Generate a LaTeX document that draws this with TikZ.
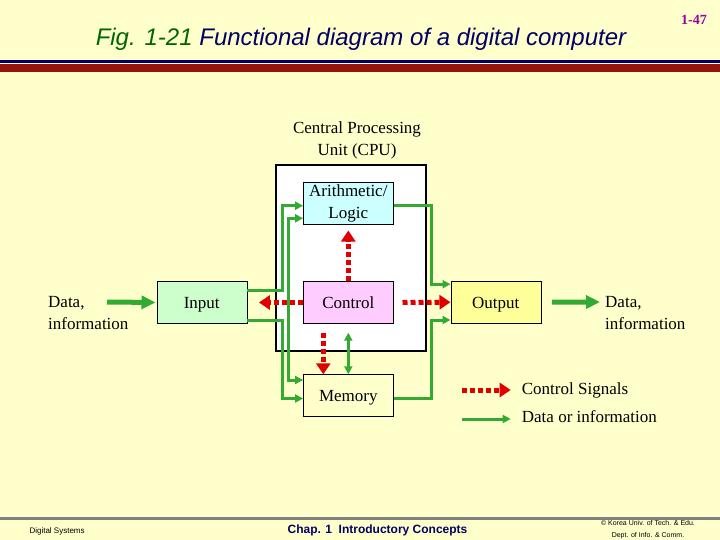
\documentclass[tikz,border=0pt]{standalone}
\usepackage{fontspec}
\setmainfont{Liberation Serif}
\setsansfont{Liberation Sans}
\usepackage{tikz}
\usetikzlibrary{positioning}
\usetikzlibrary{arrows.meta}
\definecolor{slidebg}{RGB}{255,255,204}
\definecolor{navyblue}{RGB}{0,0,102}
\definecolor{figgreen}{RGB}{0,102,0}
\definecolor{pagepurple}{RGB}{153,0,153}
\definecolor{ctrlred}{RGB}{224,0,0}
\definecolor{datagreen}{RGB}{51,170,51}
\definecolor{alufill}{RGB}{204,255,255}
\definecolor{ctrlfill}{RGB}{255,204,255}
\definecolor{infill}{RGB}{204,255,204}
\definecolor{outfill}{RGB}{255,255,153}
\definecolor{bardark}{RGB}{150,20,10}
\definecolor{barlight}{RGB}{235,40,20}
\tikzset{
unit/.style={ % Sets the properties for each unit box
draw,
thin,
minimum width=90pt,
minimum height=42pt,
inner sep=0pt,
align=center,
font=\fontsize{17}{22}\selectfont},
oneline/.style={ % Same baseline for one-line boxes
text height=12pt,
text depth=0pt},
txt/.style={ % Plain text on the slide
inner sep=0pt,
font=\fontsize{17}{22}\selectfont},
ctrl/.style={ % Control signals, dotted red
draw=ctrlred,
line width=5pt,
dash pattern=on 5pt off 3pt,
-{Triangle[length=11pt,width=14pt]}},
data/.style={ % Data paths, green
draw=datagreen,
line width=3pt,
-{Triangle[length=8pt,width=8pt]}},
bigdata/.style={ % Data going in and out
draw=datagreen,
line width=5pt,
-{Triangle[length=14pt,width=13pt]}}}

\begin{document}
\begin{tikzpicture}[x=1pt,y=-1pt]
\fill[slidebg] (0,0) rectangle (720,540);
\useasboundingbox (0,0) rectangle (720,540);
% header
\node[anchor=base, font=\sffamily\itshape\fontsize{24}{28}\selectfont] (title) at (361,46)
{\color{figgreen}Fig. 1-21 \color{navyblue}Functional diagram of a digital computer};
\node[font=\bfseries\fontsize{14}{16}\selectfont, text=pagepurple] (page) at (694,20) {1-47};
\fill[navyblue] (0,60) rectangle (720,63);
\shade[left color=bardark, middle color=barlight, right color=bardark] (0,65) rectangle (720,72);
% footer
\fill[gray] (0,517) rectangle (720,520);
\node[anchor=west, font=\sffamily\fontsize{8}{9}\selectfont] (book) at (26,531) {Digital Systems};
\node[font=\sffamily\bfseries\fontsize{12}{14}\selectfont, text=navyblue] (chap) at (377.5,530) {Chap. 1\ \ Introductory Concepts};
\node[align=center, font=\sffamily\fontsize{7}{12}\selectfont] (copy) at (648,530) {\textcopyright{} Korea Univ. of Tech. \& Edu.\\Dept. of Info. \& Comm.};

\node[txt, align=center] (cpulbl) at (357,140) {Central Processing\\Unit (CPU)};
\node[draw, line width=2.5pt, fill=white, minimum width=150pt, minimum height=186pt] (cpu) at (350.8,257.8) {};
\node[unit, fill=alufill] (alu) at (348.3,203.3) {Arithmetic/\\Logic};
\node[unit, oneline, fill=ctrlfill] (control) at (348.3,302.5) {Control};
\node[unit, oneline, fill=infill] (input) at (201.7,302.5) {Input};
\node[unit, oneline, fill=slidebg] (memory) at (348.3,395.5) {Memory};
\node[unit, oneline, fill=outfill] (output) at (495.7,302.2) {Output};
\node[txt, anchor=west, align=left] (datain) at (48,313) {Data,\\information};
\node[txt, anchor=west, align=left] (dataout) at (605,313) {Data,\\information};
\node[txt, anchor=west] (ctrllbl) at (521.7,390) {Control Signals};
\node[txt, anchor=west] (datalbl) at (521.7,417) {Data or information};
\coordinate (inkey) at (107,302);
\coordinate (outkey) at (600,302);
\coordinate (ctrlkey) at (462,390);
\coordinate (datakey) at (462,419);

% control signals
\draw[ctrl] (control.north) -- (alu.south) [shorten >=6pt];
\draw[ctrl, shorten >=12pt] (control.west) -- (input.east);
\draw[ctrl, shorten <=9pt] (control.east) -- (output.west);
\draw[ctrl, shorten <=9pt] ([xshift=-25pt]control.south) -- ([xshift=-25pt]memory.north);
\draw[ctrl, shorten >=11pt] (ctrlkey) -- (ctrllbl.west);
% data paths
\draw[data, {Triangle[length=8pt,width=8pt]}-{Triangle[length=8pt,width=8pt]}, shorten <=9pt] (control.south) -- (memory.north);
\draw[data] ([yshift=12.5pt]input.east) -- ++(35.6,0) |- ([yshift=-2.4pt]alu.west);
\draw[data] ([yshift=-18pt]input.east) -- ++(35.6,0) |- ([yshift=-3pt]memory.west);
\draw[data, {Triangle[length=8pt,width=8pt]}-{Triangle[length=8pt,width=8pt]}] ([yshift=-15pt]alu.west) -- ++(-15,0) |- ([yshift=15.5pt]memory.west);
\draw[data] ([yshift=-2.4pt]alu.east) -- ++(38.4,0) |- ([yshift=18pt]output.west);
\draw[data] ([yshift=-3pt]memory.east) -- ++(38.4,0) |- ([yshift=-17.8pt]output.west);
\draw[data, shorten >=11pt] (datakey) -- (datalbl.west |- datakey);
\draw[bigdata, shorten >=1pt] (inkey) -- (input.west);
\draw[bigdata, shorten <=11pt] (output.east) -- (outkey);
\end{tikzpicture}
\end{document}
